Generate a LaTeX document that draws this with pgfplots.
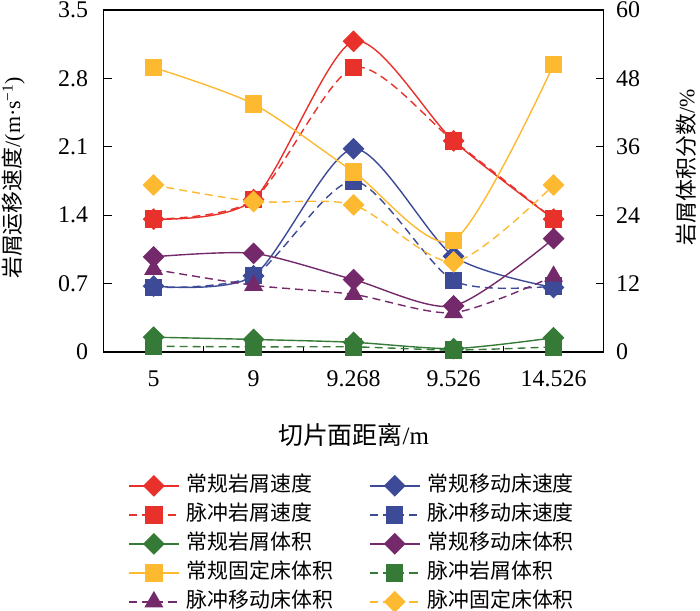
\documentclass[border=0pt]{standalone}
\usepackage{fontspec}
\setmainfont{Liberation Serif}
\newfontfamily\cjk{Noto Sans CJK SC}
\usepackage{pgfplots}
\pgfplotsset{compat=1.18}
\definecolor{cred}{HTML}{E8312B}
\definecolor{cblue}{HTML}{3C4A97}
\definecolor{cgreen}{HTML}{357A37}
\definecolor{cpurple}{HTML}{74296B}
\definecolor{corange}{HTML}{FDB92F}
\begin{document}
\begin{tikzpicture}
\pgfplotsset{
  every axis/.append style={
    width=500bp, height=342bp, scale only axis,
    xmin=-0.5, xmax=4.5, clip=false,
    tick align=inside,
    axis line style={line width=1.5bp},
    every tick/.style={black, line width=1.2bp},
    major tick length=8bp, minor tick length=6bp,
    /pgf/number format/assume math mode=true,
    tick label style={font=\fontsize{24}{24}\selectfont},
  },
  dia/.style={mark=square*, mark size=7bp, mark options={rotate=45, solid}},
  sq/.style={mark=square*, mark size=8bp, mark options={solid}},
  tri/.style={mark=triangle*, mark size=9.5bp, mark options={solid}},
  dsh/.style={dash pattern=on 8bp off 5bp},
  ln/.style={line width=1.4bp, smooth, tension=0.45},
}
\begin{axis}[name=a,
  ymin=0, ymax=3.5,
  ytick={0,0.7,1.4,2.1,2.8,3.5},
  yticklabels={0,0.7,1.4,2.1,2.8,3.5},
  xtick={0,1,2,3,4},
  xticklabels={5,9,9.268,9.526,14.526},
  minor xtick={0.5,1.5,2.5,3.5},
  major x tick style={draw=none},
  xtick pos=bottom, ytick pos=left,
  yticklabel style={xshift=-12bp},
  xticklabel style={yshift=-15bp},
  every axis y label/.style={at={(axis description cs:-0.181,0.509)}, anchor=center, rotate=90, font=\fontsize{22}{22}\selectfont},
  every axis x label/.style={at={(axis description cs:0.5,-0.243)}, anchor=center, font=\fontsize{25}{25}\selectfont},
  ylabel={{\cjk 岩屑运移速度}/(m·s\textsuperscript{−1})},
  xlabel={{\cjk 切片面距离}/m},
]
\addplot[cred, ln, dia] coordinates {(0,1.36) (1,1.56) (2,3.18) (3,2.16) (4,1.36)};
\addplot[cred, ln, dsh, sq] coordinates {(0,1.36) (1,1.56) (2,2.91) (3,2.16) (4,1.36)};
\addplot[cblue, ln, dia] coordinates {(0,0.675) (1,0.78) (2,2.08) (3,0.98) (4,0.66)};
\addplot[cblue, ln, dsh, sq] coordinates {(0,0.66) (1,0.78) (2,1.75) (3,0.73) (4,0.675)};
\end{axis}
\begin{axis}[
  ymin=0, ymax=60,
  ytick={0,12,24,36,48,60},
  axis x line=none, axis y line*=right,
  yticklabel style={xshift=9bp},
  every axis y label/.style={at={(axis description cs:1.1648,0.54)}, anchor=center, rotate=90, font=\fontsize{22}{22}\selectfont},
  ylabel={{\cjk 岩屑体积分数}/\%},
  legend columns=2,
  legend cell align=left,
  legend image code/.code={\draw[mark repeat=2, mark phase=2] plot coordinates {(0bp,0bp) (25bp,0bp) (50bp,0bp)};},
  legend style={at={(axis description cs:0.0488,-0.36)}, anchor=north west,
    draw=none, fill=none, inner sep=0bp, row sep=8bp,
    font=\fontsize{21}{21}\selectfont\cjk,
    nodes={inner sep=0bp, text height=16bp, text depth=5bp},
    /tikz/every odd column/.append style={column sep=7bp},
    /tikz/every even column/.append style={column sep=36bp}},
]
\addlegendimage{cred, line width=1.4bp, dia}
\addlegendentry{常规岩屑速度}
\addlegendimage{cblue, line width=1.4bp, dia}
\addlegendentry{常规移动床速度}
\addlegendimage{cred, line width=1.4bp, dsh, sq}
\addlegendentry{脉冲岩屑速度}
\addlegendimage{cblue, line width=1.4bp, dsh, sq}
\addlegendentry{脉冲移动床速度}
\addplot[cgreen, ln, dia] coordinates {(0,2.6) (1,2.2) (2,1.7) (3,0.6) (4,2.5)};
\addlegendentry{常规岩屑体积}
\addplot[cpurple, ln, dia] coordinates {(0,16.7) (1,17.3) (2,12.7) (3,8.1) (4,19.9)};
\addlegendentry{常规移动床体积}
\addplot[corange, ln, sq] coordinates {(0,49.9) (1,43.5) (2,31.6) (3,19.6) (4,50.4)};
\addlegendentry{常规固定床体积}
\addplot[cgreen, ln, dsh, sq] coordinates {(0,1.0) (1,0.9) (2,0.9) (3,0.35) (4,0.9)};
\addlegendentry{脉冲岩屑体积}
\addplot[cpurple, ln, dsh, tri] coordinates {(0,14.5) (1,11.7) (2,10.1) (3,6.9) (4,13.3)};
\addlegendentry{脉冲移动床体积}
\addplot[corange, ln, dsh, dia] coordinates {(0,29.3) (1,26.4) (2,25.8) (3,15.8) (4,29.3)};
\addlegendentry{脉冲固定床体积}
\end{axis}
\pgfresetboundingbox
\path[use as bounding box] (a.south west) ++(-103.6bp,-259bp) rectangle ++(700bp,611bp);
\end{tikzpicture}
\end{document}
